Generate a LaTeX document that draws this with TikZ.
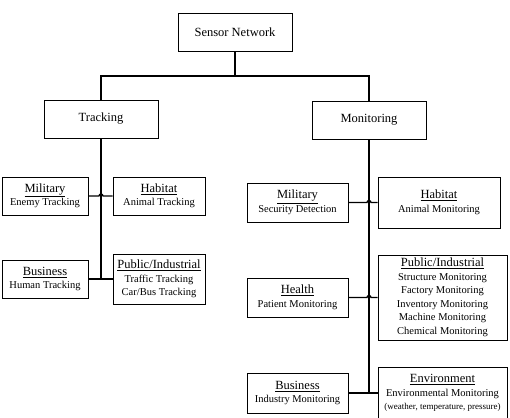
\documentclass[tikz,border=0pt]{standalone}
\usepackage{fontspec}
\setmainfont{Liberation Serif}
\newcommand{\hdfont}{\fontsize{12.5}{15}\selectfont}
\newcommand{\sbfont}{\fontsize{10.5}{13.5}\selectfont}
\newcommand{\hd}[1]{{\hdfont\underline{#1}}}
\tikzset{
	box/.style={draw, line width=0.8pt, inner sep=0pt, align=center, font=\sbfont},
	link/.style={line width=1.3pt},
}
\begin{document}
		\begin{tikzpicture}[x=1pt, y=-1pt]
			\useasboundingbox (0,0) rectangle (510,417);
			\node (sn) [box, font=\hdfont, minimum width=114pt, minimum height=38pt] at (235,32) {Sensor Network};
			\node (track) [box, font=\hdfont, minimum width=114pt, minimum height=38pt] at (101,119) {Tracking};
			\node (monit) [box, font=\hdfont, minimum width=114pt, minimum height=38pt] at (369,120) {Monitoring};
			\node (tmil) [box, minimum width=86pt, minimum height=38pt] at (45,196) {\hd{Military}\\Enemy Tracking};
			\node (thab) [box, minimum width=92pt, minimum height=38pt] at (159,196) {\hd{Habitat}\\Animal Tracking};
			\node (tbus) [box, minimum width=86pt, minimum height=38pt] at (45,279) {\hd{Business}\\Human Tracking};
			\node (tpub) [box, minimum width=92pt, minimum height=50pt] at (159,279) {\hd{Public/Industrial}\\Traffic Tracking\\Car/Bus Tracking};
			\node (mmil) [box, minimum width=101pt, minimum height=39pt] at (297.5,202.5) {\hd{Military}\\Security Detection};
			\node (mhab) [box, minimum width=122pt, minimum height=51pt] at (439,202.5) {\hd{Habitat}\\Animal Monitoring};
			\node (mhea) [box, minimum width=101pt, minimum height=39pt] at (297.5,297.5) {\hd{Health}\\Patient Monitoring};
			\node (mpub) [box, minimum width=129pt, minimum height=85pt] at (442.5,297.5) {\hd{Public/Industrial}\\Structure Monitoring\\Factory Monitoring\\Inventory Monitoring\\Machine Monitoring\\Chemical Monitoring};
			\node (mbus) [box, minimum width=101pt, minimum height=40pt] at (297.5,393) {\hd{Business}\\Industry Monitoring};
			\node (menv) [box, minimum width=129pt, minimum height=52pt] at (442.5,393) {\hd{Environment}\\Environmental Monitoring\\{\fontsize{9}{13.5}\selectfont(weather, temperature, pressure)}};
			\coordinate (top) at (235,76);
			\draw [link] (sn.south) -- (top);
			\draw [link] (track.north) |- (top) -| (monit.north);
			\draw [link] (track.south) -- (track.south |- tbus.east);
			\draw [link] (tmil.east) -- ([xshift=-2pt]tmil.east -| track.south) arc[start angle=180, end angle=0, radius=2pt] -- (thab.west);
			\draw [link] (tbus.east) -- (tpub.west);
			\draw [link] (monit.south) -- (monit.south |- mbus.east);
			\draw [link] (mmil.east) -- ([xshift=-2pt]mmil.east -| monit.south) arc[start angle=180, end angle=0, radius=2pt] -- (mhab.west);
			\draw [link] (mhea.east) -- ([xshift=-2pt]mhea.east -| monit.south) arc[start angle=180, end angle=0, radius=2pt] -- (mpub.west);
			\draw [link] (mbus.east) -- (menv.west);
		\end{tikzpicture}
\end{document}
